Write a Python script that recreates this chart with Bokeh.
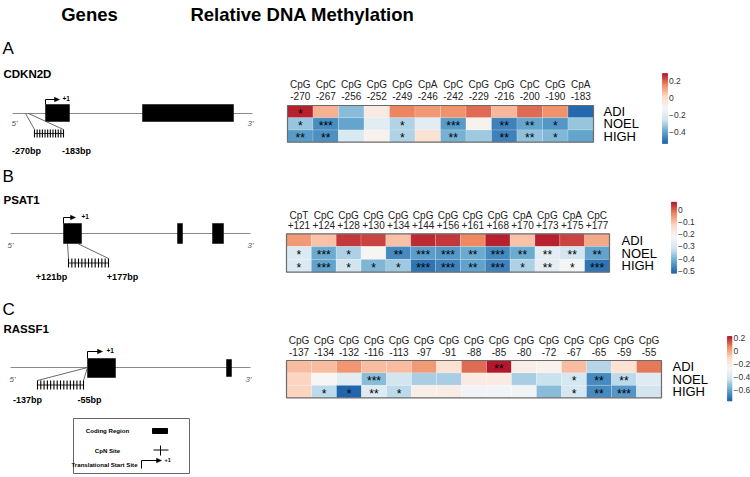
import numpy as np
from bokeh.plotting import figure
from bokeh.models import Range1d, LinearColorMapper, ColumnDataSource
from bokeh.core.properties import value
from bokeh.embed import file_html
from bokeh.resources import INLINE

# ---------------- data ----------------
rows = ["ADI", "NOEL", "HIGH"]

a_types = ["CpG", "CpC", "CpG", "CpG", "CpG", "CpA", "CpC", "CpG", "CpG", "CpC", "CpG", "CpA"]
a_pos = ["-270", "-267", "-256", "-252", "-249", "-246", "-242", "-229", "-216", "-200", "-190", "-183"]
a_adi = [0.27, 0.08, -0.35, -0.06, 0.15, 0.12, 0.13, 0.18, 0.07, 0.18, 0.13, -0.52]
a_noel = [-0.33, -0.45, -0.40, -0.20, -0.30, -0.20, -0.42, -0.10, -0.47, -0.40, -0.43, -0.33]
a_high = [-0.42, -0.44, -0.23, -0.10, -0.30, -0.02, -0.37, -0.32, -0.47, -0.34, -0.36, -0.40]
a_star_adi = ["*", "", "", "", "", "", "", "", "", "", "", ""]
a_star_noel = ["*", "***", "", "", "*", "", "***", "", "**", "**", "*", ""]
a_star_high = ["**", "**", "", "", "*", "", "**", "", "**", "**", "*", ""]
a_range = (-0.528, 0.281)
a_ticks = [0.2, 0.0, -0.2, -0.4]

b_types = ["CpT", "CpC", "CpG", "CpG", "CpG", "CpG", "CpG", "CpG", "CpG", "CpA", "CpG", "CpA", "CpC"]
b_pos = ["+121", "+124", "+128", "+130", "+134", "+144", "+156", "+161", "+168", "+170", "+173", "+175", "+177"]
b_adi = [-0.05, -0.10, 0.04, 0.03, -0.10, 0.05, 0.04, -0.03, 0.06, -0.10, 0.06, 0.03, -0.07]
b_noel = [-0.30, -0.42, -0.36, -0.22, -0.47, -0.44, -0.45, -0.42, -0.47, -0.42, -0.28, -0.32, -0.43]
b_high = [-0.30, -0.43, -0.32, -0.40, -0.37, -0.50, -0.48, -0.43, -0.48, -0.36, -0.28, -0.24, -0.50]
b_star_adi = [""] * 13
b_star_noel = ["*", "***", "*", "", "**", "***", "***", "**", "***", "**", "**", "**", "**"]
b_star_high = ["*", "***", "*", "*", "*", "***", "***", "**", "***", "*", "**", "*", "***"]
b_range = (-0.522, 0.068)
b_ticks = [0.0, -0.1, -0.2, -0.3, -0.4, -0.5]

c_types = ["CpG"] * 15
c_pos = ["-137", "-134", "-132", "-116", "-113", "-97", "-91", "-88", "-85", "-80", "-72", "-67", "-65", "-59", "-55"]
c_adi = [-0.05, -0.05, 0.03, -0.05, -0.05, 0.02, -0.15, 0.10, 0.22, -0.22, -0.24, -0.05, -0.48, -0.15, 0.08]
c_noel = [-0.10, -0.27, -0.37, -0.55, -0.43, -0.50, -0.50, -0.20, -0.20, -0.50, -0.45, -0.42, -0.68, -0.47, -0.38]
c_high = [-0.10, -0.47, -0.77, -0.38, -0.47, -0.22, -0.21, -0.30, -0.30, -0.30, -0.55, -0.42, -0.68, -0.65, -0.43]
c_star_adi = ["", "", "", "", "", "", "", "", "**", "", "", "", "", "", ""]
c_star_noel = ["", "", "", "***", "", "", "", "", "", "", "", "*", "**", "**", ""]
c_star_high = ["", "*", "*", "**", "*", "", "", "", "", "", "", "*", "**", "***", ""]
c_range = (-0.77, 0.22)
c_ticks = [0.2, 0.0, -0.2, -0.4, -0.6]

brewer_rdbu7 = ["#2166AC", "#67A9CF", "#D1E5F0", "#F7F7F7", "#FDDBC7", "#EF8A62", "#B2182B"]

# ---------------- palette ----------------
def hex2rgb(h):
    return tuple(int(h[i:i + 2], 16) for i in (1, 3, 5))

stops = [hex2rgb(c) for c in brewer_rdbu7]
pal = []
for k in range(256):
    t = k / 255 * (len(stops) - 1)
    i = min(int(t), len(stops) - 2)
    f = t - i
    c = tuple(round(stops[i][j] * (1 - f) + stops[i + 1][j] * f) for j in range(3))
    pal.append("#%02x%02x%02x" % c)

# ---------------- figure ----------------
W, H = 750, 477
p = figure(width=W, height=H, x_range=Range1d(0, W), y_range=Range1d(H, 0),
           output_backend="svg", toolbar_location=None, min_border=0,
           x_axis_location=None, y_axis_location=None)
p.grid.visible = False
p.outline_line_color = None
p.background_fill_color = "white"

SANS = "Liberation Sans"


def txt(xs, ys, texts, size, font=SANS, style="normal", align="center", baseline="middle", color="black"):
    p.text(x=xs, y=ys, text=texts, text_font=value(font), text_font_size=size,
           text_font_style=style, text_align=align, text_baseline=baseline, text_color=color)


# titles
txt([89], [14], ["Genes"], "18.5px", SANS, "bold")
txt([302], [14], ["Relative DNA Methylation"], "18.5px", SANS, "bold")
txt([2, 2, 2], [48, 176, 309], ["A", "B", "C"], "17px", SANS, "normal", align="left")
txt([3, 3, 3], [73, 199, 328], ["CDKN2D", "PSAT1", "RASSF1"], "11.5px", SANS, "bold", align="left")

# ---------------- gene diagrams ----------------
GRAY = "#8a8a8a"


def arrow(x, ybase, ytop, xend, lw=1.0):
    p.segment(x0=[x, x], y0=[ybase, ytop], x1=[x, xend - 2], y1=[ytop, ytop], line_color="black", line_width=lw)
    p.patch(x=[xend - 4, xend + 1, xend - 4], y=[ytop - 2.2, ytop, ytop + 2.2], fill_color="black", line_color="black", line_width=0.5)


def gene(line, exons, arr, plus, five, three, diag, ticks, n, labels):
    (lx0, lx1, ly) = line
    p.segment(x0=[lx0], y0=[ly], x1=[lx1], y1=[ly], line_color=GRAY, line_width=1)
    for (x0, y0, x1, y1) in exons:
        p.quad(left=[x0], right=[x1], top=[y0], bottom=[y1], fill_color="black", line_color="black", line_width=0.5)
    arrow(*arr)
    txt([plus[0]], [plus[1]], ["+1"], "6.5px", SANS, "bold", align="left")
    txt([five[0]], [five[1]], ["5'"], "8px", SANS, "italic", color="#555555")
    txt([three[0]], [three[1]], ["3'"], "8px", SANS, "italic", color="#555555")
    p.segment(x0=[d[0] for d in diag], y0=[d[1] for d in diag], x1=[d[2] for d in diag], y1=[d[3] for d in diag],
              line_color="#444444", line_width=0.8)
    tx0, tx1, ty0, ty1 = ticks
    xs = np.linspace(tx0, tx1, n)
    p.segment(x0=xs, y0=[ty0] * n, x1=xs, y1=[ty1] * n, line_color="black", line_width=1.1)
    p.segment(x0=[tx0], y0=[(ty0 + ty1) / 2], x1=[tx1], y1=[(ty0 + ty1) / 2], line_color="black", line_width=0.8)
    txt([l[0] for l in labels], [l[1] for l in labels], [l[2] for l in labels], "9px", SANS, "bold")


gene((12, 252, 113), [(45, 104, 69, 121), (142, 104, 233, 121)], (45, 104, 99, 58),
     (62, 98), (14, 123), (250, 123),
     [(25, 113, 34, 129), (28, 113, 63, 129)], (34, 63, 129, 137), len(a_pos),
     [(26, 150, "-270bp"), (76, 150, "-183bp")])

gene((10, 250, 233), [(63, 223, 81, 243), (177, 223, 182, 243), (212, 223, 223, 243)], (63, 223, 217, 74),
     (81, 216), (10, 245), (250, 245),
     [(67, 243, 68, 258), (77, 243, 108, 258)], (68, 108, 258, 267), len(b_pos),
     [(51, 276, "+121bp"), (122, 276, "+177bp")])

gene((10, 250, 367), [(87, 358, 115, 377), (226, 359, 231, 376)], (87, 358, 351, 101),
     (106, 350), (12, 379), (248, 379),
     [(87, 367, 37, 380), (87, 367, 83, 380)], (37, 83, 380, 389), len(c_pos),
     [(27, 399, "-137bp"), (89, 399, "-55bp")])

# legend box
p.quad(left=[73], right=[189], top=[418], bottom=[473], fill_color="white", line_color="#666666", line_width=1)
txt([107, 107, 104], [430, 450, 464], ["Coding Region", "CpN Site", "Translational Start Site"], "6.1px", SANS, "bold")
p.quad(left=[152], right=[167], top=[428], bottom=[433], fill_color="black", line_color="black")
p.segment(x0=[160, 153], y0=[445, 449.5], x1=[160, 168], y1=[455, 449.5], line_color="black", line_width=1)
arrow(141, 468, 460, 160)
txt([164], [459], ["+1"], "5.5px", SANS, "bold", align="left")

# ---------------- heatmaps ----------------


def heatmap(box, types, pos, vals, stars, rng, ticks, lab_y, row_x, cb):
    x0, x1, y0, y1 = box
    ncol, nrow = len(pos), len(rows)
    cw = (x1 - x0) / ncol
    rh = (y1 - y0) / nrow
    lo, hi = rng
    mapper = LinearColorMapper(palette=pal, low=lo, high=hi)
    L, R, T, B, V, S, CX, CY = [], [], [], [], [], [], [], []
    for r in range(nrow):
        for c in range(ncol):
            L.append(x0 + c * cw); R.append(x0 + (c + 1) * cw)
            T.append(y0 + r * rh); B.append(y0 + (r + 1) * rh)
            V.append(vals[r][c]); S.append(stars[r][c])
            CX.append(x0 + (c + 0.5) * cw); CY.append(y0 + (r + 0.5) * rh + 2.2)
    src = ColumnDataSource(dict(left=L, right=R, top=T, bottom=B, v=V, s=S, cx=CX, cy=CY))
    p.quad(left="left", right="right", top="top", bottom="bottom", source=src,
           fill_color={"field": "v", "transform": mapper}, line_color="white", line_alpha=0.35, line_width=0.5)
    p.quad(left=[x0], right=[x1], top=[y0], bottom=[y1], fill_color=None, line_color="#6b6b6b", line_width=1.2)
    p.text(x="cx", y="cy", text="s", source=src, text_font=value(SANS), text_font_size="12px",
           text_align="center", text_baseline="middle", text_color="black")
    cx = [x0 + (c + 0.5) * cw for c in range(ncol)]
    txt(cx, [lab_y[0]] * ncol, types, "10px", SANS, color="#222222")
    txt(cx, [lab_y[1]] * ncol, pos, "10px", SANS, color="#222222")
    txt([row_x] * nrow, [y0 + (r + 0.5) * rh for r in range(nrow)], rows, "13px", SANS, align="left")
    # colour bar
    bx0, bx1, by0, by1 = cb
    n = 140
    edges = np.linspace(by0, by1, n + 1)
    cvals = np.linspace(hi, lo, n)
    csrc = ColumnDataSource(dict(top=edges[:-1], bottom=edges[1:], v=cvals))
    p.quad(left=bx0, right=bx1, top="top", bottom="bottom", source=csrc,
           fill_color={"field": "v", "transform": mapper}, line_color={"field": "v", "transform": mapper}, line_width=0.6)
    ty = [by0 + (hi - t) / (hi - lo) * (by1 - by0) for t in ticks]
    labs = [("%g" % t).replace("-", "\u2212") for t in ticks]
    txt([bx1 + 1.5] * len(ticks), ty, labs, "8.5px", SANS, align="left", color="#333333")


heatmap((287, 593, 105, 141.7), a_types, a_pos, [a_adi, a_noel, a_high],
        [a_star_adi, a_star_noel, a_star_high], a_range, a_ticks, (84, 95), 603, (662, 667, 73, 143))
heatmap((286, 609, 233.3, 271.7), b_types, b_pos, [b_adi, b_noel, b_high],
        [b_star_adi, b_star_noel, b_star_high], b_range, b_ticks, (215, 224.5), 621, (671, 676, 201.7, 272.7))
heatmap((286, 661, 360, 397.3), c_types, c_pos, [c_adi, c_noel, c_high],
        [c_star_adi, c_star_noel, c_star_high], c_range, c_ticks, (340, 351), 672, (727, 731.5, 336, 400.5))

open("out.html", "w").write(file_html(p, INLINE))
